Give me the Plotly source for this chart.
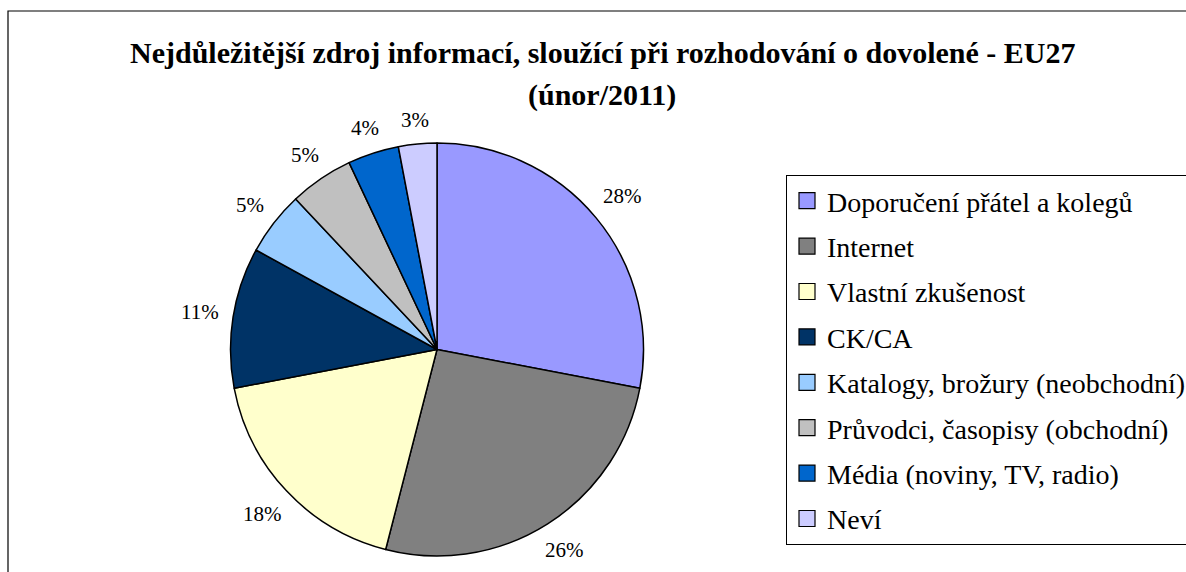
import math
import plotly.graph_objects as go

labels = ["Doporučení přátel a kolegů", "Internet", "Vlastní zkušenost", "CK/CA",
          "Katalogy, brožury (neobchodní)", "Průvodci, časopisy (obchodní)",
          "Média (noviny, TV, radio)", "Neví"]
values = [28, 26, 18, 11, 5, 5, 4, 3]
colors = ["#9999FF", "#808080", "#FFFFCC", "#003366", "#99CCFF", "#C0C0C0", "#0066CC", "#CCCCFF"]
title_lines = ["Nejdůležitější zdroj informací, sloužící při rozhodování o dovolené - EU27", "(únor/2011)"]

W, H = 1186, 572
CX, CY, R = 437, 349.5, 206.5
FONT = "Liberation Serif"
LBL_FS = 21

fig = go.Figure()
fig.add_trace(go.Pie(
    labels=labels, values=values, sort=False, direction="clockwise", rotation=0,
    marker=dict(colors=colors, line=dict(color="black", width=1.5)),
    textinfo="none", showlegend=False,
    domain=dict(x=[(CX - R) / W, (CX + R) / W], y=[1 - (CY + R) / H, 1 - (CY - R) / H]),
))

# legend entries
for lab, col in zip(labels, colors):
    fig.add_trace(go.Scatter(
        x=[None], y=[None], mode="markers", name=lab, legendgroup=lab,
        marker=dict(symbol="square", size=16, color=col, line=dict(color="black", width=1.2)),
        showlegend=True, hoverinfo="skip"))

# percentage labels placed outside the rim
total = sum(values)
cum = 0
annotations = []
for v in values:
    th = math.radians(360 * (cum + v / 2) / total)
    cum += v
    txt = f"{round(100 * v / total)}%"
    hw = ((len(txt) - 1) * 0.5 + 0.833) * LBL_FS / 2
    hh = LBL_FS * 0.45
    r = R + 13 + hw * abs(math.sin(th)) + hh * abs(math.cos(th))
    px = CX + r * math.sin(th)
    py = CY - r * math.cos(th)
    annotations.append(dict(x=px / W, y=1 - py / H, xref="paper", yref="paper", text=txt,
                            showarrow=False, xanchor="center", yanchor="middle",
                            font=dict(family=FONT, size=LBL_FS, color="black")))

# title lines
for t, yc in zip(title_lines, [52, 95]):
    annotations.append(dict(x=602 / W, y=1 - yc / H, xref="paper", yref="paper",
                            text=f"<b>{t}</b>", showarrow=False,
                            xanchor="center", yanchor="middle",
                            font=dict(family=FONT, size=30, color="black")))

fig.update_layout(
    width=W, height=H, autosize=False,
    margin=dict(l=0, r=0, t=0, b=0, autoexpand=False),
    paper_bgcolor="white", plot_bgcolor="white",
    xaxis=dict(visible=False), yaxis=dict(visible=False),
    legend=dict(x=786 / W, y=1 - 175 / H, xanchor="left", yanchor="top",
                bordercolor="black", borderwidth=1, bgcolor="white",
                font=dict(family=FONT, size=28, color="black"),
                tracegroupgap=6, traceorder="grouped", itemsizing="trace"),
    annotations=annotations,
    shapes=[dict(type="rect", xref="paper", yref="paper", x0=8 / W, x1=1.05,
                 y0=-0.05, y1=1 - 11 / H, line=dict(color="black", width=1.2))],
    showlegend=True,
)

fig.write_html("out.html", config={"displayModeBar": False},
               post_script="document.body.style.margin='0px';")
